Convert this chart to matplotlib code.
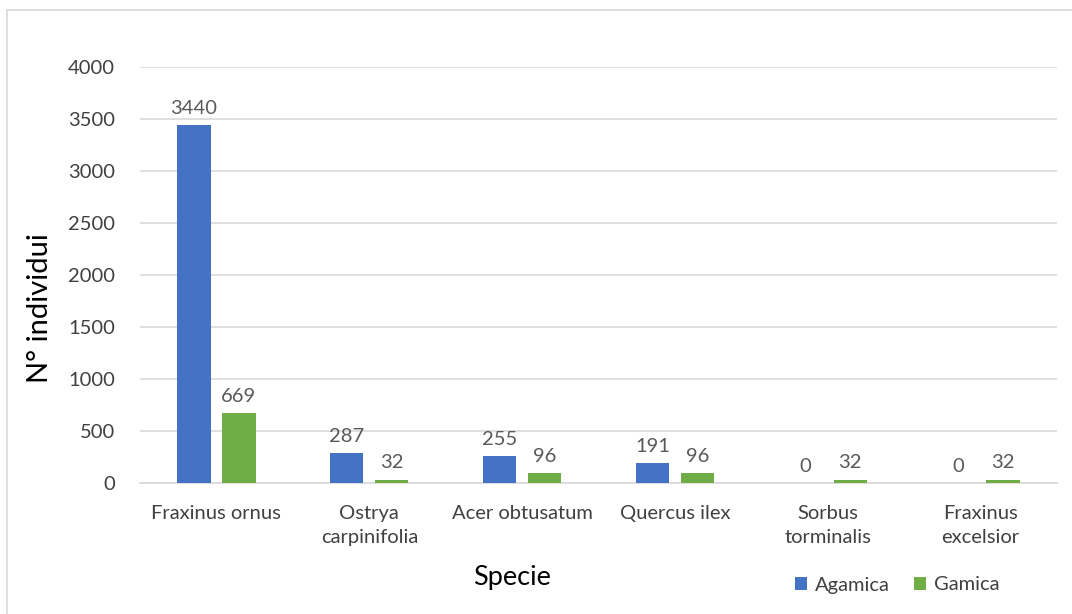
import matplotlib
matplotlib.use("Agg")
import matplotlib.pyplot as plt
import numpy as np
from matplotlib.patches import Rectangle

plt.rcParams['font.family'] = ['Lato', 'DejaVu Sans']

species = ["Fraxinus ornus", "Ostrya\ncarpinifolia", "Acer obtusatum",
           "Quercus ilex", "Sorbus\ntorminalis", "Fraxinus\nexcelsior"]
agamica = [3440, 287, 255, 191, 0, 0]
gamica = [669, 32, 96, 96, 32, 32]
yticks = [0, 500, 1000, 1500, 2000, 2500, 3000, 3500, 4000]

blue = "#4472C4"
green = "#70AD47"
text_dark = "#595959"

fig = plt.figure(figsize=(10.72, 6.14), dpi=100)
fig.patches.append(Rectangle((7 / 1072, -0.05), 1.1, 1 - 10 / 614 + 0.05,
                             transform=fig.transFigure, fill=False,
                             edgecolor="#D9D9D9", linewidth=1.2, zorder=0))

ax = fig.add_axes([140 / 1072, 1 - 483 / 614, (1057 - 140) / 1072, (483 - 67) / 614])

x = np.arange(len(species))
w = 0.218
off = 0.147
b1 = ax.bar(x - off, agamica, w, color=blue, label="Agamica", zorder=3)
b2 = ax.bar(x + off, gamica, w, color=green, label="Gamica", zorder=3)

for bars, vals in ((b1, agamica), (b2, gamica)):
    for rect, v in zip(bars, vals):
        ax.annotate(f"{v}", (rect.get_x() + rect.get_width() / 2, v),
                    xytext=(0, 6), textcoords="offset points",
                    ha="center", va="bottom", fontsize=14.5, color=text_dark)

ax.set_xlim(-0.5, len(species) - 0.5)
ax.set_ylim(0, 4000)
ax.set_yticks(yticks)
ax.set_xticks(x)
ax.set_xticklabels(species, fontsize=14.5, color="#404040", linespacing=1.45)
ax.tick_params(axis="y", labelsize=14.5, labelcolor="#404040", length=0, pad=18)
ax.tick_params(axis="x", length=0, pad=16)
ax.grid(axis="y", color="#D9D9D9", linewidth=1.2, zorder=0)
for s in ["top", "right", "left"]:
    ax.spines[s].set_visible(False)
ax.spines["bottom"].set_color("#D9D9D9")
ax.spines["bottom"].set_linewidth(1.2)

fig.text(40 / 1072, 1 - 308 / 614, "N° individui", rotation=90, ha="center",
         va="center", fontsize=21, color="black")
fig.text(512 / 1072, 1 - 577 / 614, "Specie", ha="center", va="center",
         fontsize=19.5, color="black")

leg = fig.legend(handles=[b1, b2], loc="center", bbox_to_anchor=(897 / 1072, 1 - 585 / 614),
                 ncol=2, frameon=False, fontsize=14.5, handlelength=0.6,
                 handleheight=0.6, handletextpad=0.4, columnspacing=1.2)
for t in leg.get_texts():
    t.set_color("#404040")

fig.savefig("out.png", dpi=100)
